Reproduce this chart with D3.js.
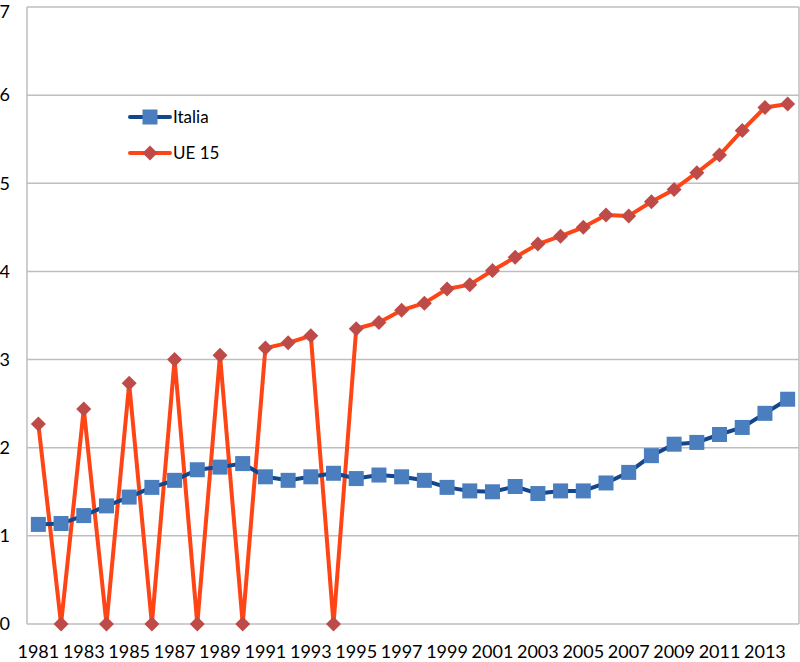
<!DOCTYPE html>
<html><head><meta charset="utf-8">
<script src="https://cdn.jsdelivr.net/npm/d3@7"></script>
<style>body{margin:0;background:#fff}svg{display:block}</style>
</head><body><svg id="c" width="800" height="662"></svg>
<script>
const years = d3.range(1981, 2015).map(String);
const italia = [1.13,1.14,1.23,1.34,1.44,1.55,1.63,1.75,1.78,1.82,1.67,1.63,1.67,1.71,1.65,1.69,1.67,1.63,1.55,1.51,1.50,1.56,1.48,1.51,1.51,1.60,1.72,1.91,2.04,2.06,2.15,2.23,2.39,2.55];
const ue15 = [2.27,0,2.44,0,2.73,0,3.00,0,3.05,0,3.13,3.19,3.27,0,3.35,3.42,3.56,3.64,3.80,3.85,4.01,4.16,4.31,4.40,4.50,4.64,4.63,4.79,4.93,5.12,5.32,5.60,5.86,5.90];
const yTicks = [0,1,2,3,4,5,6,7];
const xTickLabels = years.filter((d,i)=>i%2===0);
const seriesNames = ["Italia","UE 15"];

const svg = d3.select("#c");
const L=27, R=799, T=7, B=624;
const x = d3.scaleBand().domain(years).range([L,R]);
const y = d3.scaleLinear().domain([0,7]).range([B,T]);
const font = "Lato, 'Open Sans', sans-serif";
const cx = d => x(d)+x.bandwidth()/2;

// gridlines
svg.append("g").selectAll("line").data(yTicks).join("line")
  .attr("x1",L).attr("x2",R).attr("y1",d=>y(d)).attr("y2",d=>y(d))
  .attr("stroke","#BEBEBE").attr("stroke-width",1.5);
// borders
svg.append("line").attr("x1",L).attr("x2",L).attr("y1",T).attr("y2",B).attr("stroke","#BEBEBE").attr("stroke-width",1.5);
svg.append("line").attr("x1",R).attr("x2",R).attr("y1",T).attr("y2",B).attr("stroke","#BEBEBE").attr("stroke-width",1.5);

// y labels
svg.append("g").selectAll("text").data(yTicks).join("text")
  .attr("x",10).attr("y",d=>Math.max(y(d),12)).attr("dy","0.35em").attr("text-anchor","end")
  .attr("font-family",font).attr("font-size",18).attr("fill","#000").text(d=>d);
// x labels
svg.append("g").selectAll("text").data(xTickLabels).join("text")
  .attr("x",d=>cx(d)).attr("y",658).attr("text-anchor","middle")
  .attr("font-family",font).attr("font-size",18).attr("fill","#000").text(d=>d);

const line = d3.line().x((d,i)=>cx(years[i])).y(d=>y(d));
// UE 15
svg.append("path").datum(ue15).attr("d",line).attr("fill","none")
  .attr("stroke","#FF4515").attr("stroke-width",4).attr("stroke-linejoin","round");
// Italia
svg.append("path").datum(italia).attr("d",line).attr("fill","none")
  .attr("stroke","#13468A").attr("stroke-width",4).attr("stroke-linejoin","round");

const sq = 15;
svg.append("g").selectAll("rect").data(italia).join("rect")
  .attr("x",(d,i)=>cx(years[i])-sq/2).attr("y",d=>y(d)-sq/2)
  .attr("width",sq).attr("height",sq).attr("fill","#4A7EBF");
const dm = 7.5;
svg.append("g").selectAll("path").data(ue15).join("path")
  .attr("d",(d,i)=>{const px=cx(years[i]),py=y(d);return `M${px},${py-dm}L${px+dm},${py}L${px},${py+dm}L${px-dm},${py}Z`;})
  .attr("fill","#BE4B48");

// legend
const lg = svg.append("g");
const ly=[117,153];
lg.append("line").attr("x1",130).attr("x2",170).attr("y1",ly[0]).attr("y2",ly[0]).attr("stroke","#13468A").attr("stroke-width",4).attr("stroke-linecap","round");
lg.append("rect").attr("x",150-sq/2).attr("y",ly[0]-sq/2).attr("width",sq).attr("height",sq).attr("fill","#4A7EBF");
lg.append("line").attr("x1",130).attr("x2",170).attr("y1",ly[1]).attr("y2",ly[1]).attr("stroke","#FF4515").attr("stroke-width",4).attr("stroke-linecap","round");
lg.append("path").attr("d",`M150,${ly[1]-dm}L${150+dm},${ly[1]}L150,${ly[1]+dm}L${150-dm},${ly[1]}Z`).attr("fill","#BE4B48");
lg.selectAll("text").data(seriesNames).join("text")
  .attr("x",173).attr("y",(d,i)=>ly[i]).attr("dy","0.35em")
  .attr("font-family",font).attr("font-size",17).attr("fill","#000").text(d=>d);
</script></body></html>
